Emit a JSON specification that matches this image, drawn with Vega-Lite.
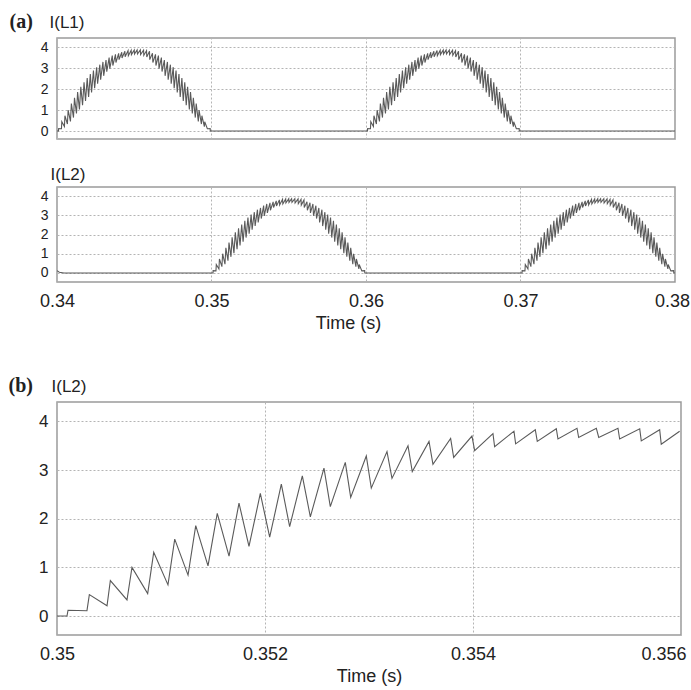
{
"$schema":"https://vega.github.io/schema/vega-lite/v6.json",
"padding":{"left":7,"top":10,"right":0,"bottom":0},
"background":"white",
"config":{
"view":{"stroke":"#9a9a9a","strokeWidth":1.5},
"axis":{"grid":true,"gridColor":"#b4b4b4","gridDash":[2,2],"gridWidth":1,"domain":false,"ticks":false,"labelFont":"Liberation Sans","labelColor":"#222222","titleFont":"Liberation Sans","titleColor":"#222222","titleFontWeight":"normal","labelFlush":false,"labelOverlap":false},
"line":{"color":"#5a5a5a","strokeWidth":1.1}
},
"datasets":{
"L1":[
{"t":0.34,"v":0},{"t":0.340096,"v":0},{"t":0.340106,"v":0.12},{"t":0.340288,"v":0.11},{"t":0.340311,"v":0.44},{"t":0.340481,"v":0.21},{"t":0.340513,"v":0.73},{"t":0.340673,"v":0.33},{"t":0.340721,"v":1},{"t":0.340872,"v":0.46},{"t":0.34093,"v":1.31},{"t":0.341067,"v":0.64},{"t":0.341132,"v":1.58},{"t":0.34126,"v":0.84},{"t":0.341334,"v":1.86},{"t":0.341452,"v":1.03},{"t":0.341541,"v":2.11},{"t":0.341654,"v":1.23},{"t":0.34175,"v":2.32},{"t":0.341846,"v":1.43},{"t":0.341955,"v":2.52},{"t":0.342045,"v":1.62},{"t":0.342157,"v":2.71},{"t":0.342237,"v":1.84},{"t":0.342359,"v":2.88},{"t":0.342436,"v":2.04},{"t":0.342567,"v":3.04},{"t":0.342628,"v":2.25},{"t":0.342772,"v":3.16},{"t":0.342824,"v":2.44},{"t":0.342974,"v":3.29},{"t":0.343022,"v":2.63},{"t":0.343173,"v":3.38},{"t":0.343221,"v":2.83},{"t":0.343375,"v":3.5},{"t":0.343416,"v":2.97},{"t":0.343577,"v":3.59},{"t":0.343615,"v":3.12},{"t":0.343785,"v":3.65},{"t":0.343814,"v":3.26},{"t":0.34399,"v":3.7},{"t":0.344016,"v":3.4},{"t":0.344192,"v":3.75},{"t":0.344208,"v":3.48},{"t":0.344394,"v":3.8},{"t":0.34441,"v":3.54},{"t":0.344599,"v":3.83},{"t":0.344618,"v":3.59},{"t":0.344801,"v":3.85},{"t":0.344817,"v":3.64},{"t":0.345,"v":3.86},{"t":0.345016,"v":3.67},{"t":0.345186,"v":3.86},{"t":0.345209,"v":3.67},{"t":0.345394,"v":3.86},{"t":0.34541,"v":3.64},{"t":0.345603,"v":3.85},{"t":0.345618,"v":3.6},{"t":0.345795,"v":3.83},{"t":0.34581,"v":3.53},{"t":0.345987,"v":3.8},{"t":0.346003,"v":3.4},{"t":0.346179,"v":3.7},{"t":0.346205,"v":3.26},{"t":0.346375,"v":3.65},{"t":0.346404,"v":3.12},{"t":0.346565,"v":3.59},{"t":0.346603,"v":2.97},{"t":0.346757,"v":3.5},{"t":0.346798,"v":2.83},{"t":0.346949,"v":3.38},{"t":0.346997,"v":2.63},{"t":0.347147,"v":3.29},{"t":0.347195,"v":2.44},{"t":0.347339,"v":3.16},{"t":0.347391,"v":2.25},{"t":0.347522,"v":3.04},{"t":0.347583,"v":2.04},{"t":0.347705,"v":2.88},{"t":0.347782,"v":1.84},{"t":0.347894,"v":2.71},{"t":0.347974,"v":1.62},{"t":0.348083,"v":2.52},{"t":0.348173,"v":1.43},{"t":0.348269,"v":2.32},{"t":0.348365,"v":1.23},{"t":0.348454,"v":2.11},{"t":0.348567,"v":1.03},{"t":0.348641,"v":1.86},{"t":0.348759,"v":0.84},{"t":0.348824,"v":1.58},{"t":0.348952,"v":0.64},{"t":0.34901,"v":1.31},{"t":0.349147,"v":0.46},{"t":0.349195,"v":1},{"t":0.349346,"v":0.33},{"t":0.349378,"v":0.73},{"t":0.349538,"v":0.21},{"t":0.349561,"v":0.44},{"t":0.349731,"v":0.11},{"t":0.349913,"v":0.12},{"t":0.349923,"v":0},
{"t":0.36,"v":0},{"t":0.360096,"v":0},{"t":0.360106,"v":0.12},{"t":0.360288,"v":0.11},{"t":0.360311,"v":0.44},{"t":0.360481,"v":0.21},{"t":0.360513,"v":0.73},{"t":0.360673,"v":0.33},{"t":0.360721,"v":1},{"t":0.360872,"v":0.46},{"t":0.36093,"v":1.31},{"t":0.361067,"v":0.64},{"t":0.361132,"v":1.58},{"t":0.36126,"v":0.84},{"t":0.361334,"v":1.86},{"t":0.361452,"v":1.03},{"t":0.361541,"v":2.11},{"t":0.361654,"v":1.23},{"t":0.36175,"v":2.32},{"t":0.361846,"v":1.43},{"t":0.361955,"v":2.52},{"t":0.362045,"v":1.62},{"t":0.362157,"v":2.71},{"t":0.362237,"v":1.84},{"t":0.362359,"v":2.88},{"t":0.362436,"v":2.04},{"t":0.362567,"v":3.04},{"t":0.362628,"v":2.25},{"t":0.362772,"v":3.16},{"t":0.362824,"v":2.44},{"t":0.362974,"v":3.29},{"t":0.363022,"v":2.63},{"t":0.363173,"v":3.38},{"t":0.363221,"v":2.83},{"t":0.363375,"v":3.5},{"t":0.363416,"v":2.97},{"t":0.363577,"v":3.59},{"t":0.363615,"v":3.12},{"t":0.363785,"v":3.65},{"t":0.363814,"v":3.26},{"t":0.36399,"v":3.7},{"t":0.364016,"v":3.4},{"t":0.364192,"v":3.75},{"t":0.364208,"v":3.48},{"t":0.364394,"v":3.8},{"t":0.36441,"v":3.54},{"t":0.364599,"v":3.83},{"t":0.364618,"v":3.59},{"t":0.364801,"v":3.85},{"t":0.364817,"v":3.64},{"t":0.365,"v":3.86},{"t":0.365016,"v":3.67},{"t":0.365186,"v":3.86},{"t":0.365209,"v":3.67},{"t":0.365394,"v":3.86},{"t":0.36541,"v":3.64},{"t":0.365603,"v":3.85},{"t":0.365618,"v":3.6},{"t":0.365795,"v":3.83},{"t":0.36581,"v":3.53},{"t":0.365987,"v":3.8},{"t":0.366003,"v":3.4},{"t":0.366179,"v":3.7},{"t":0.366205,"v":3.26},{"t":0.366375,"v":3.65},{"t":0.366404,"v":3.12},{"t":0.366565,"v":3.59},{"t":0.366603,"v":2.97},{"t":0.366757,"v":3.5},{"t":0.366798,"v":2.83},{"t":0.366949,"v":3.38},{"t":0.366997,"v":2.63},{"t":0.367147,"v":3.29},{"t":0.367195,"v":2.44},{"t":0.367339,"v":3.16},{"t":0.367391,"v":2.25},{"t":0.367522,"v":3.04},{"t":0.367583,"v":2.04},{"t":0.367705,"v":2.88},{"t":0.367782,"v":1.84},{"t":0.367894,"v":2.71},{"t":0.367974,"v":1.62},{"t":0.368083,"v":2.52},{"t":0.368173,"v":1.43},{"t":0.368269,"v":2.32},{"t":0.368365,"v":1.23},{"t":0.368454,"v":2.11},{"t":0.368567,"v":1.03},{"t":0.368641,"v":1.86},{"t":0.368759,"v":0.84},{"t":0.368824,"v":1.58},{"t":0.368952,"v":0.64},{"t":0.36901,"v":1.31},{"t":0.369147,"v":0.46},{"t":0.369195,"v":1},{"t":0.369346,"v":0.33},{"t":0.369378,"v":0.73},{"t":0.369538,"v":0.21},{"t":0.369561,"v":0.44},{"t":0.369731,"v":0.11},{"t":0.369913,"v":0.12},{"t":0.369923,"v":0},
{"t":0.38,"v":0}
],
"L2":[
{"t":0.34,"v":0.12},{"t":0.34015,"v":0.04},{"t":0.34045,"v":0},
{"t":0.35,"v":0},{"t":0.350096,"v":0},{"t":0.350106,"v":0.12},{"t":0.350288,"v":0.11},{"t":0.350311,"v":0.44},{"t":0.350481,"v":0.21},{"t":0.350513,"v":0.73},{"t":0.350673,"v":0.33},{"t":0.350721,"v":1},{"t":0.350872,"v":0.46},{"t":0.35093,"v":1.31},{"t":0.351067,"v":0.64},{"t":0.351132,"v":1.58},{"t":0.35126,"v":0.84},{"t":0.351334,"v":1.86},{"t":0.351452,"v":1.03},{"t":0.351541,"v":2.11},{"t":0.351654,"v":1.23},{"t":0.35175,"v":2.32},{"t":0.351846,"v":1.43},{"t":0.351955,"v":2.52},{"t":0.352045,"v":1.62},{"t":0.352157,"v":2.71},{"t":0.352237,"v":1.84},{"t":0.352359,"v":2.88},{"t":0.352436,"v":2.04},{"t":0.352567,"v":3.04},{"t":0.352628,"v":2.25},{"t":0.352772,"v":3.16},{"t":0.352824,"v":2.44},{"t":0.352974,"v":3.29},{"t":0.353022,"v":2.63},{"t":0.353173,"v":3.38},{"t":0.353221,"v":2.83},{"t":0.353375,"v":3.5},{"t":0.353416,"v":2.97},{"t":0.353577,"v":3.59},{"t":0.353615,"v":3.12},{"t":0.353785,"v":3.65},{"t":0.353814,"v":3.26},{"t":0.35399,"v":3.7},{"t":0.354016,"v":3.4},{"t":0.354192,"v":3.75},{"t":0.354208,"v":3.48},{"t":0.354394,"v":3.8},{"t":0.35441,"v":3.54},{"t":0.354599,"v":3.83},{"t":0.354618,"v":3.59},{"t":0.354801,"v":3.85},{"t":0.354817,"v":3.64},{"t":0.355,"v":3.86},{"t":0.355016,"v":3.67},{"t":0.355186,"v":3.86},{"t":0.355209,"v":3.67},{"t":0.355394,"v":3.86},{"t":0.35541,"v":3.64},{"t":0.355603,"v":3.85},{"t":0.355618,"v":3.6},{"t":0.355795,"v":3.83},{"t":0.35581,"v":3.53},{"t":0.355987,"v":3.8},{"t":0.356003,"v":3.4},{"t":0.356179,"v":3.7},{"t":0.356205,"v":3.26},{"t":0.356375,"v":3.65},{"t":0.356404,"v":3.12},{"t":0.356565,"v":3.59},{"t":0.356603,"v":2.97},{"t":0.356757,"v":3.5},{"t":0.356798,"v":2.83},{"t":0.356949,"v":3.38},{"t":0.356997,"v":2.63},{"t":0.357147,"v":3.29},{"t":0.357195,"v":2.44},{"t":0.357339,"v":3.16},{"t":0.357391,"v":2.25},{"t":0.357522,"v":3.04},{"t":0.357583,"v":2.04},{"t":0.357705,"v":2.88},{"t":0.357782,"v":1.84},{"t":0.357894,"v":2.71},{"t":0.357974,"v":1.62},{"t":0.358083,"v":2.52},{"t":0.358173,"v":1.43},{"t":0.358269,"v":2.32},{"t":0.358365,"v":1.23},{"t":0.358454,"v":2.11},{"t":0.358567,"v":1.03},{"t":0.358641,"v":1.86},{"t":0.358759,"v":0.84},{"t":0.358824,"v":1.58},{"t":0.358952,"v":0.64},{"t":0.35901,"v":1.31},{"t":0.359147,"v":0.46},{"t":0.359195,"v":1},{"t":0.359346,"v":0.33},{"t":0.359378,"v":0.73},{"t":0.359538,"v":0.21},{"t":0.359561,"v":0.44},{"t":0.359731,"v":0.11},{"t":0.359913,"v":0.12},{"t":0.359923,"v":0},
{"t":0.37,"v":0},{"t":0.370096,"v":0},{"t":0.370106,"v":0.12},{"t":0.370288,"v":0.11},{"t":0.370311,"v":0.44},{"t":0.370481,"v":0.21},{"t":0.370513,"v":0.73},{"t":0.370673,"v":0.33},{"t":0.370721,"v":1},{"t":0.370872,"v":0.46},{"t":0.37093,"v":1.31},{"t":0.371067,"v":0.64},{"t":0.371132,"v":1.58},{"t":0.37126,"v":0.84},{"t":0.371334,"v":1.86},{"t":0.371452,"v":1.03},{"t":0.371541,"v":2.11},{"t":0.371654,"v":1.23},{"t":0.37175,"v":2.32},{"t":0.371846,"v":1.43},{"t":0.371955,"v":2.52},{"t":0.372045,"v":1.62},{"t":0.372157,"v":2.71},{"t":0.372237,"v":1.84},{"t":0.372359,"v":2.88},{"t":0.372436,"v":2.04},{"t":0.372567,"v":3.04},{"t":0.372628,"v":2.25},{"t":0.372772,"v":3.16},{"t":0.372824,"v":2.44},{"t":0.372974,"v":3.29},{"t":0.373022,"v":2.63},{"t":0.373173,"v":3.38},{"t":0.373221,"v":2.83},{"t":0.373375,"v":3.5},{"t":0.373416,"v":2.97},{"t":0.373577,"v":3.59},{"t":0.373615,"v":3.12},{"t":0.373785,"v":3.65},{"t":0.373814,"v":3.26},{"t":0.37399,"v":3.7},{"t":0.374016,"v":3.4},{"t":0.374192,"v":3.75},{"t":0.374208,"v":3.48},{"t":0.374394,"v":3.8},{"t":0.37441,"v":3.54},{"t":0.374599,"v":3.83},{"t":0.374618,"v":3.59},{"t":0.374801,"v":3.85},{"t":0.374817,"v":3.64},{"t":0.375,"v":3.86},{"t":0.375016,"v":3.67},{"t":0.375186,"v":3.86},{"t":0.375209,"v":3.67},{"t":0.375394,"v":3.86},{"t":0.37541,"v":3.64},{"t":0.375603,"v":3.85},{"t":0.375618,"v":3.6},{"t":0.375795,"v":3.83},{"t":0.37581,"v":3.53},{"t":0.375987,"v":3.8},{"t":0.376003,"v":3.4},{"t":0.376179,"v":3.7},{"t":0.376205,"v":3.26},{"t":0.376375,"v":3.65},{"t":0.376404,"v":3.12},{"t":0.376565,"v":3.59},{"t":0.376603,"v":2.97},{"t":0.376757,"v":3.5},{"t":0.376798,"v":2.83},{"t":0.376949,"v":3.38},{"t":0.376997,"v":2.63},{"t":0.377147,"v":3.29},{"t":0.377195,"v":2.44},{"t":0.377339,"v":3.16},{"t":0.377391,"v":2.25},{"t":0.377522,"v":3.04},{"t":0.377583,"v":2.04},{"t":0.377705,"v":2.88},{"t":0.377782,"v":1.84},{"t":0.377894,"v":2.71},{"t":0.377974,"v":1.62},{"t":0.378083,"v":2.52},{"t":0.378173,"v":1.43},{"t":0.378269,"v":2.32},{"t":0.378365,"v":1.23},{"t":0.378454,"v":2.11},{"t":0.378567,"v":1.03},{"t":0.378641,"v":1.86},{"t":0.378759,"v":0.84},{"t":0.378824,"v":1.58},{"t":0.378952,"v":0.64},{"t":0.37901,"v":1.31},{"t":0.379147,"v":0.46},{"t":0.379195,"v":1},{"t":0.379346,"v":0.33},{"t":0.379378,"v":0.73},{"t":0.379538,"v":0.21},{"t":0.379561,"v":0.44},{"t":0.379731,"v":0.11},{"t":0.379913,"v":0.12},{"t":0.379923,"v":0},{"t":0.38,"v":0}
],
"blank":[{"k":1}]
},
"bounds":"flush",
"spacing":48,
"vconcat":[
{
"width":618,"height":101,
"data":{"name":"L1"},
"mark":{"type":"line","clip":true},
"encoding":{
"x":{"field":"t","type":"quantitative","scale":{"domain":[0.34,0.38],"nice":false,"zero":false},
"axis":{"orient":"top","labels":false,"values":[0.34,0.35,0.36,0.37,0.38],"title":"I(L1)","titleX":-8,"titleY":-11,"titleAlign":"left","titleBaseline":"alphabetic","titleAngle":0,"titleFontSize":17}},
"y":{"field":"v","type":"quantitative","scale":{"domain":[-0.38,4.43],"nice":false,"zero":false},
"axis":{"values":[0,1,2,3,4],"labelFontSize":14,"labelPadding":9,"title":"(a)","titleX":-48,"titleY":-11,"titleAlign":"left","titleBaseline":"alphabetic","titleAngle":0,"titleFont":"Liberation Serif","titleFontWeight":"bold","titleFontSize":20}}
}
},
{
"width":618,"height":95,
"data":{"name":"L2"},
"mark":{"type":"line","clip":true},
"encoding":{
"x":{"field":"t","type":"quantitative","scale":{"domain":[0.34,0.38],"nice":false,"zero":false},
"axis":{"values":[0.34,0.35,0.36,0.37,0.38],"format":"~g","labelFontSize":18,"labelPadding":10,"labelOffset":{"condition":{"test":"datum.value > 0.3799","value":-3},"value":0},"title":"Time (s)","titleFontSize":18,"titlePadding":4,"titleX":291}},
"y":{"field":"v","type":"quantitative","scale":{"domain":[-0.47,4.47],"nice":false,"zero":false},
"axis":{"values":[0,1,2,3,4],"labelFontSize":14,"labelPadding":9,"title":"I(L2)","titleX":-7,"titleY":-8,"titleAlign":"left","titleBaseline":"alphabetic","titleAngle":0,"titleFontSize":17}}
}
},
{
"width":618,"height":24,
"data":{"name":"blank"},
"mark":{"type":"point","opacity":0},
"view":{"stroke":null}
},
{
"width":624,"height":233,
"data":{"name":"L2"},
"transform":[{"filter":"datum.t >= 0.35 && datum.t <= 0.356"}],
"layer":[
{
"mark":{"type":"line","clip":true},
"encoding":{
"x":{"field":"t","type":"quantitative","scale":{"domain":[0.35,0.356],"nice":false,"zero":false},
"axis":{"values":[0.35,0.352,0.354,0.356],"format":"~g","labelFontSize":18,"labelPadding":10,"labelAlign":{"condition":{"test":"datum.value > 0.3559","value":"right"},"value":"center"},"labelOffset":{"condition":{"test":"datum.value > 0.3559","value":5},"value":0},"title":"Time (s)","titleFontSize":18,"titlePadding":4}},
"y":{"field":"v","type":"quantitative","scale":{"domain":[-0.39,4.4],"nice":false,"zero":false},
"axis":{"values":[0,1,2,3,4],"labelFontSize":17,"labelPadding":9,"title":"(b)","titleX":-49,"titleY":-11,"titleAlign":"left","titleBaseline":"alphabetic","titleAngle":0,"titleFont":"Liberation Serif","titleFontWeight":"bold","titleFontSize":20}}
}
},
{
"mark":{"type":"line","opacity":0},
"encoding":{
"x":{"field":"t","type":"quantitative","scale":{"domain":[0.35,0.356],"nice":false,"zero":false},
"axis":{"orient":"top","labels":false,"grid":false,"values":[0.35],"title":"I(L2)","titleX":-6,"titleY":-11,"titleAlign":"left","titleBaseline":"alphabetic","titleAngle":0,"titleFontSize":17}}
}
}
],
"resolve":{"axis":{"x":"independent"}}
}
]
}
